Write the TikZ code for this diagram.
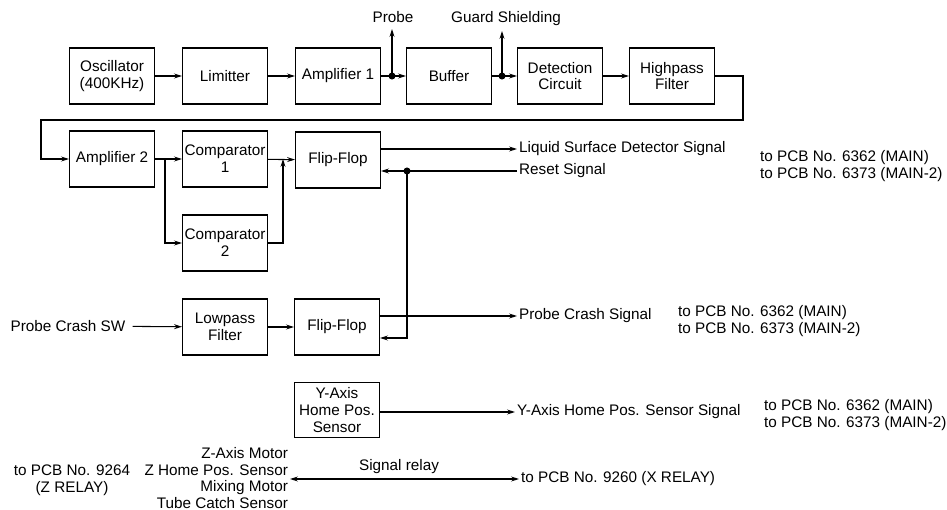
\documentclass[tikz,border=0pt]{standalone}
\usepackage{fontspec}
\setmainfont{Liberation Sans}
\usetikzlibrary{arrows.meta}

\begin{document}
\begin{tikzpicture}[
        x=0.02cm, y=-0.02cm,
        every node/.style={font=\fontsize{8.7}{9.5}\selectfont},
        blk/.style={draw=black, line width=0.6pt, minimum width=1.7cm, minimum height=1.12cm, inner sep=1pt, align=center},
        lbl/.style={inner sep=1pt},
        arr/.style={-{Stealth[length=4.5pt, width=2.8pt]}, line width=0.6pt},
        arrs/.style={{Stealth[length=4.5pt, width=2.8pt]}-{Stealth[length=4.5pt, width=2.8pt]}, line width=0.6pt},
        dot/.style={circle, fill=black, inner sep=0pt, minimum size=4pt}
    ]
        \useasboundingbox (0,0) rectangle (947,510);

        % Nodes, first row
        \node[blk] (osc) at (112, 76) {Oscillator\\(400KHz)};
        \node[blk] (lim) at (225, 76) {Limitter};
        \node[blk] (amp1) at (338, 76) {Amplifier 1};
        \node[blk] (buf) at (449, 76) {Buffer};
        \node[blk] (det) at (560, 76) {Detection\\Circuit};
        \node[blk] (hp) at (672, 76) {Highpass\\Filter};
        \node[dot] (pdot) at (392, 76) {};
        \node[dot] (gdot) at (502, 76) {};
        \node[lbl] (probe) at (393, 17) {Probe};
        \node[lbl] (guard) at (506, 19) {Guard Shielding};

        % Nodes, second row
        \node[blk] (amp2) at (112, 159) {Amplifier 2};
        \node[blk] (cmp1) at (225, 159) {Comparator\\1};
        \node[blk] (ff1) at (338, 160) {Flip-Flop};
        \node[blk] (cmp2) at (225, 243) {Comparator\\2};
        \node[lbl, anchor=west] (lsd) at (517, 149) {Liquid Surface Detector Signal};
        \node[lbl, anchor=west] (rst) at (517, 171) {Reset Signal};
        \node[lbl, anchor=west, align=left] (main1) at (758, 166) {to PCB No. 6362 (MAIN)\\to PCB No. 6373 (MAIN-2)};

        % Nodes, third row
        \node[lbl] (pcsw) at (68, 326) {Probe Crash SW};
        \node[blk] (lpf) at (225, 327) {Lowpass\\Filter};
        \node[blk] (ff2) at (337, 327) {Flip-Flop};
        \node[lbl, anchor=west] (pcs) at (517, 316) {Probe Crash Signal};
        \node[lbl, anchor=west, align=left] (main2) at (676, 321) {to PCB No. 6362 (MAIN)\\to PCB No. 6373 (MAIN-2)};

        % Nodes, fourth row
        \node[blk, minimum height=1.1cm] (ysen) at (337, 410) {Y-Axis\\Home Pos.\\Sensor};
        \node[lbl, anchor=west] (ysig) at (515, 412) {Y-Axis Home Pos. Sensor Signal};
        \node[lbl, anchor=west, align=left] (main3) at (762, 415) {to PCB No. 6362 (MAIN)\\to PCB No. 6373 (MAIN-2)};

        % Nodes, relay row
        \node[lbl, anchor=east, align=right] (zmot) at (290, 478) {Z-Axis Motor\\Z Home Pos. Sensor\\Mixing Motor\\Tube Catch Sensor};
        \node[lbl, align=center] (zrel) at (72, 480) {to PCB No. 9264\\(Z RELAY)};
        \node[lbl, anchor=west] (xrel) at (519, 479) {to PCB No. 9260 (X RELAY)};
        \node[lbl] (srel) at (399, 467) {Signal relay};

        % Helper points
        \coordinate (ptip) at (392, 29);
        \coordinate (gtip) at (502, 31);
        \coordinate (fbR) at (743, 120);
        \coordinate (fbL) at (41, 120);
        \coordinate (br) at (165, 159);
        \coordinate (cj) at (283, 159);
        \node[dot] (rdot) at (407, 171) {};

        % Edges, first row
        \draw[arr] (osc) -- (lim);
        \draw[arr] (lim) -- (amp1);
        \draw[arr] (amp1) -- (buf);
        \draw[arr] (pdot.center) -- (ptip);
        \draw[arr] (buf) -- (det);
        \draw[arr] (gdot.center) -- (gtip);
        \draw[arr] (det) -- (hp);
        \draw[arr] (hp.east) -| (fbR) -- (fbL) |- (amp2.west);

        % Edges, second row
        \draw[arr] (amp2) -- (cmp1);
        \draw[arr] (br) |- (cmp2.west);
        \draw[arr] (cmp1) -- (ff1);
        \draw[arr] (cmp2.east) -| (cj);
        \draw[arr] (ff1.east |- lsd.west) -- (lsd.west);
        \draw[arr] (rst.west) -- (ff1.east |- rst.west);
        \draw[arr] (rdot.center) |- ([yshift=-0.22cm]ff2.east);

        % Edges, third and fourth rows
        \draw[arr, shorten <=3pt] (pcsw) -- (lpf);
        \draw[arr] (lpf) -- (ff2);
        \draw[arr] (ff2.east |- pcs.west) -- (pcs.west);
        \draw[arr] (ysen.east |- ysig.west) -- (ysig.west);

        % Signal relay
        \draw[arrs] (zmot.east |- xrel.west) -- (xrel.west);

    \end{tikzpicture}
\end{document}
